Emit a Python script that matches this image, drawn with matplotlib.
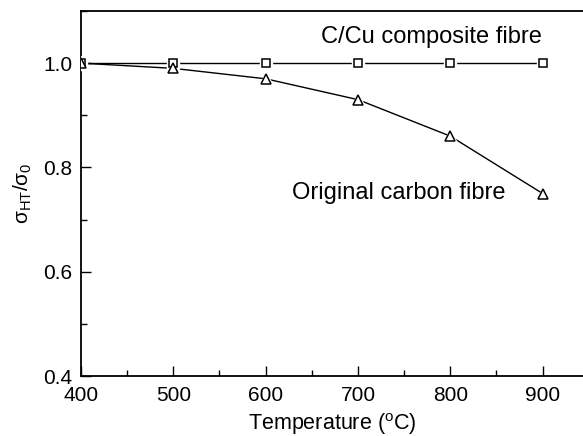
import matplotlib
matplotlib.use("Agg")
import matplotlib.pyplot as plt
from matplotlib.ticker import MultipleLocator, FormatStrFormatter

plt.rcParams['font.family'] = ['Liberation Sans', 'DejaVu Sans']
plt.rcParams['mathtext.fontset'] = 'custom'
plt.rcParams['mathtext.rm'] = 'Liberation Sans'
plt.rcParams['mathtext.it'] = 'Liberation Sans:italic'
plt.rcParams['mathtext.default'] = 'regular'

temperature = [400, 500, 600, 700, 800, 900]
composite_ratio = [1.0, 1.0, 1.0, 1.0, 1.0, 1.0]
carbon_ratio = [1.0, 0.99, 0.97, 0.93, 0.86, 0.75]

fig = plt.figure(figsize=(5.83, 4.36), dpi=100)
ax = fig.add_axes([81 / 583, 60 / 436, 1 - 81 / 583 + 0.002, 365 / 436])


def draw_series(y, marker, size):
    ax.plot(temperature, y, color='black', lw=1.0, zorder=2)
    # white halo so the line stops short of each marker
    ax.plot(temperature, y, ls='none', marker=marker, markersize=size + 3,
            markerfacecolor='white', markeredgecolor='white', zorder=3)
    ax.plot(temperature, y, ls='none', marker=marker, markersize=size,
            markerfacecolor='white', markeredgecolor='black',
            markeredgewidth=1.1, zorder=4)


draw_series(composite_ratio, 's', 6)
draw_series(carbon_ratio, '^', 7)

ax.set_xlim(400, 945)
ax.set_ylim(0.4, 1.1)
ax.xaxis.set_major_locator(MultipleLocator(100))
ax.xaxis.set_minor_locator(MultipleLocator(50))
ax.yaxis.set_major_locator(MultipleLocator(0.2))
ax.yaxis.set_minor_locator(MultipleLocator(0.1))
ax.yaxis.set_major_formatter(FormatStrFormatter('%.1f'))

ax.spines['right'].set_visible(False)
for side in ['left', 'bottom', 'top']:
    ax.spines[side].set_linewidth(1.3)

ax.tick_params(which='both', direction='in', top=False, right=False,
               labelsize=15, width=1.0)
ax.tick_params(which='major', length=7)
ax.tick_params(which='minor', length=4)
ax.tick_params(axis='x', which='major', pad=7)
ax.tick_params(axis='y', which='major', pad=6)

ax.set_xlabel(r'Temperature ($^{o}$C)', fontsize=15.5, labelpad=5)
ax.set_ylabel(r'$\sigma_{HT}/\sigma_{0}$', fontsize=15, labelpad=7)

ax.text(780, 1.05, 'C/Cu composite fibre', fontsize=17, ha='center', va='center')
ax.text(629, 0.75, 'Original carbon fibre', fontsize=17, ha='left', va='center')

fig.savefig('out.png', dpi=100)
